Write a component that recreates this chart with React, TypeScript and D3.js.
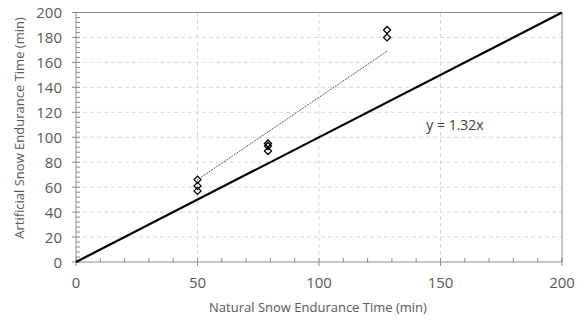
import React, { useEffect, useRef } from "react";
import * as d3 from "d3";

const W = 586;
const H = 322;

// Observed points (natural, artificial)
const naturalTimes = [50, 50, 50, 79, 79, 79, 128, 128];
const artificialTimes = [66, 61, 57, 95, 93, 89, 186, 180];
const trendSlope = 1.32;
const trendLabel = "y = 1.32x";
const xTicks = [0, 50, 100, 150, 200];
const yTicks = [0, 20, 40, 60, 80, 100, 120, 140, 160, 180, 200];
const xTitle = "Natural Snow Endurance Time (min)";
const yTitle = "Artificial Snow Endurance Time (min)";

export default function App() {
  const ref = useRef<SVGSVGElement>(null);

  useEffect(() => {
    const svg = d3.select(ref.current);
    svg.selectAll("*").remove();
    const x = d3.scaleLinear().domain([0, 200]).range([76, 562]);
    const y = d3.scaleLinear().domain([0, 200]).range([262, 12.5]);
    const font = "'Open Sans', sans-serif";
    const axisCol = "#8c8c8c";
    const labCol = "#595959";

    // gridlines
    const g = svg.append("g");
    g.selectAll("line.gx")
      .data(xTicks.filter((t) => t > 0 && t < 200))
      .join("line")
      .attr("x1", (d) => x(d))
      .attr("x2", (d) => x(d))
      .attr("y1", y(0))
      .attr("y2", y(200))
      .attr("stroke", "#d9d9d9")
      .attr("stroke-dasharray", "4,3");
    g.selectAll("line.gy")
      .data(yTicks.filter((t) => t > 0 && t < 200))
      .join("line")
      .attr("x1", x(0))
      .attr("x2", x(200))
      .attr("y1", (d) => y(d))
      .attr("y2", (d) => y(d))
      .attr("stroke", "#d9d9d9")
      .attr("stroke-dasharray", "4,3");

    // frame top/right
    svg.append("line").attr("x1", x(0)).attr("x2", x(200)).attr("y1", y(200)).attr("y2", y(200)).attr("stroke", axisCol);
    svg.append("line").attr("x1", x(200)).attr("x2", x(200)).attr("y1", y(0)).attr("y2", y(200)).attr("stroke", axisCol);

    // axes
    svg.append("line").attr("x1", x(0)).attr("x2", x(200)).attr("y1", y(0)).attr("y2", y(0)).attr("stroke", axisCol);
    svg.append("line").attr("x1", x(0)).attr("x2", x(0)).attr("y1", y(0)).attr("y2", y(200)).attr("stroke", axisCol);

    // minor ticks
    const xMinor = d3.range(0, 201, 10).filter((t) => t % 50 !== 0);
    svg.selectAll("line.xm").data(xMinor).join("line")
      .attr("x1", (d) => x(d)).attr("x2", (d) => x(d))
      .attr("y1", y(0)).attr("y2", y(0) - 4)
      .attr("stroke", axisCol);
    const yMinor = d3.range(0, 201, 4).filter((t) => t % 20 !== 0);
    svg.selectAll("line.ym").data(yMinor).join("line")
      .attr("x1", x(0)).attr("x2", x(0) + 4)
      .attr("y1", (d) => y(d)).attr("y2", (d) => y(d))
      .attr("stroke", axisCol);
    // major ticks
    svg.selectAll("line.xM").data(xTicks).join("line")
      .attr("x1", (d) => x(d)).attr("x2", (d) => x(d))
      .attr("y1", y(0) - 4).attr("y2", y(0) + 4)
      .attr("stroke", axisCol);
    svg.selectAll("line.yM").data(yTicks).join("line")
      .attr("x1", x(0) - 4).attr("x2", x(0) + 4)
      .attr("y1", (d) => y(d)).attr("y2", (d) => y(d))
      .attr("stroke", axisCol);

    // tick labels
    svg.selectAll("text.xl").data(xTicks).join("text")
      .attr("x", (d) => x(d)).attr("y", 288)
      .attr("text-anchor", "middle")
      .attr("font-family", font).attr("font-size", 15).attr("fill", labCol)
      .text((d) => d);
    svg.selectAll("text.yl").data(yTicks).join("text")
      .attr("x", 62).attr("y", (d) => y(d) + 5.5)
      .attr("text-anchor", "end")
      .attr("font-family", font).attr("font-size", 15).attr("fill", labCol)
      .text((d) => d);

    // titles
    svg.append("text").attr("x", 318).attr("y", 312).attr("text-anchor", "middle")
      .attr("font-family", font).attr("font-size", 13).attr("fill", labCol).text(xTitle);
    svg.append("text").attr("transform", `translate(24,128) rotate(-90)`).attr("text-anchor", "middle")
      .attr("font-family", font).attr("font-size", 13).attr("fill", labCol).text(yTitle);

    // 1:1 line
    svg.append("line").attr("x1", x(0)).attr("y1", y(0)).attr("x2", x(200)).attr("y2", y(200))
      .attr("stroke", "#000").attr("stroke-width", 2.2);

    // trend line
    const [xmin, xmax] = d3.extent(naturalTimes) as [number, number];
    svg.append("line").attr("x1", x(xmin)).attr("y1", y(xmin * trendSlope))
      .attr("x2", x(xmax)).attr("y2", y(xmax * trendSlope))
      .attr("stroke", "#222").attr("stroke-width", 1).attr("stroke-dasharray", "1,1");

    // markers
    const pts = naturalTimes.map((n, i) => [n, artificialTimes[i]]);
    svg.selectAll("path.pt").data(pts).join("path")
      .attr("d", (d) => {
        const cx = x(d[0]), cy = y(d[1]);
        return `M${cx},${cy - 3.5}L${cx + 3.5},${cy}L${cx},${cy + 3.5}L${cx - 3.5},${cy}Z`;
      })
      .attr("fill", "none").attr("stroke", "#000").attr("stroke-width", 1.3);

    // label
    svg.append("text").attr("x", 455).attr("y", 130).attr("text-anchor", "middle")
      .attr("font-family", font).attr("font-size", 14).attr("fill", "#404040").text(trendLabel);
  }, []);

  return (
    <svg ref={ref} width={W} height={H} style={{ position: "absolute", left: 0, top: 0, background: "#fff" }} />
  );
}
